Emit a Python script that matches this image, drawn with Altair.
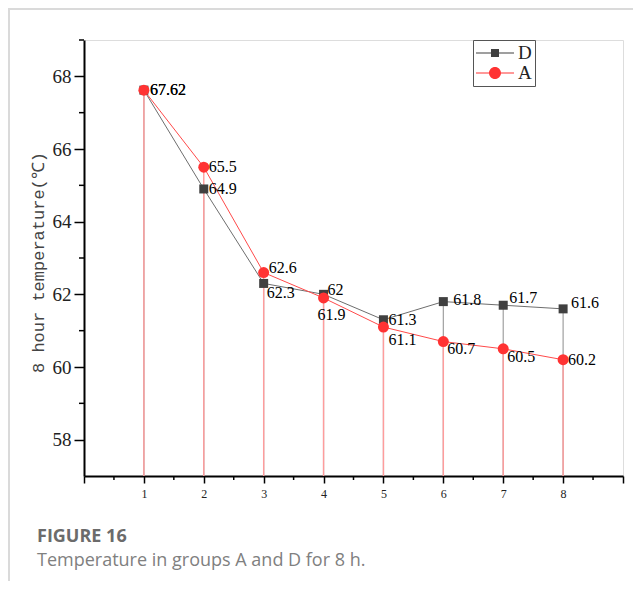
import altair as alt
import pandas as pd

# ---------------- data ----------------
HOURS = [1, 2, 3, 4, 5, 6, 7, 8]
D_VALUES = [67.62, 64.9, 62.3, 62.0, 61.3, 61.8, 61.7, 61.6]
A_VALUES = [67.62, 65.5, 62.6, 61.9, 61.1, 60.7, 60.5, 60.2]
SERIES = ["D", "A"]
X_TICKS = [0, 1, 2, 3, 4, 5, 6, 7, 8, 9]
X_MINOR = [0.5, 1.5, 2.5, 3.5, 4.5, 5.5, 6.5, 7.5, 8.5]
Y_TICKS = [58, 60, 62, 64, 66, 68]
Y_MINOR = [59, 61, 63, 65, 67, 69]
Y_TITLE = "8 hour temperature(℃)"
CAPTION_TITLE = "FIGURE 16"
CAPTION_TEXT = "Temperature in groups A and D for 8 h."

rows = []
for h, v in zip(HOURS, D_VALUES):
    rows.append({"hour": h, "value": v, "series": "D", "label": f"{v:g}"})
for h, v in zip(HOURS, A_VALUES):
    rows.append({"hour": h, "value": v, "series": "A", "label": f"{v:g}"})
df = pd.DataFrame(rows)
dfD = df[df.series == "D"]
dfA = df[df.series == "A"]

# label offsets (style only)
OFFSETS = {
    ("D", 1): (6, 0), ("D", 2): (5, 0), ("D", 3): (3, 10), ("D", 4): (4, -4),
    ("D", 5): (5, 0), ("D", 6): (10, -2), ("D", 7): (6, -7), ("D", 8): (8, -6),
    ("A", 1): (6, 0), ("A", 2): (5, 0), ("A", 3): (5, -5), ("A", 4): (-6, 17),
    ("A", 5): (5, 13), ("A", 6): (4, 7), ("A", 7): (4, 8), ("A", 8): (5, 0),
}

W, H = 539, 436
PAD = {"left": 76, "top": 32, "right": 10, "bottom": 105}

xscale = alt.Scale(domain=[0, 9], nice=False, zero=False)
yscale = alt.Scale(domain=[57, 69], nice=False, zero=False)

x_axis = alt.Axis(
    values=X_TICKS, format="d",
    labelExpr="datum.value >= 1 && datum.value <= 8 ? datum.label : ''",
    title=None, grid=False, tickSize=7, tickWidth=1.5, tickColor="black",
    domainColor="black", domainWidth=2, labelFont="Liberation Serif",
    labelFontSize=12, labelColor="#222", labelPadding=5,
)
y_axis = alt.Axis(
    values=Y_TICKS, title=Y_TITLE, grid=False, tickSize=10, tickWidth=1.5,
    tickColor="black", domainColor="black", domainWidth=2,
    labelFont="Liberation Serif", labelFontSize=19, labelColor="#222",
    labelPadding=3, titleFont="Liberation Mono", titleFontSize=17,
    titleFontWeight="normal", titleColor="#444", titleX=-46, titleY=222,
    titleBaseline="middle", titleAngle=270,
)

X = alt.X("hour:Q", scale=xscale, axis=x_axis)
Y = alt.Y("value:Q", scale=yscale, axis=y_axis)

base = alt.Chart(df)

drop_d = alt.Chart(dfD).mark_rule(color="#a0a0a0", strokeWidth=1.2).encode(
    x=X, y=Y, y2=alt.datum(57))
drop_a = alt.Chart(dfA).mark_rule(color="#ff9c9c", strokeWidth=1.4).encode(
    x=X, y=Y, y2=alt.datum(57))

line_d = alt.Chart(dfD).mark_line(color="#6e6e6e", strokeWidth=1).encode(x=X, y=Y)
line_a = alt.Chart(dfA).mark_line(color="#ff4a4a", strokeWidth=1).encode(x=X, y=Y)

pts_d = alt.Chart(dfD).mark_point(shape="square", filled=True, size=81,
                                  color="#404040", opacity=1).encode(x=X, y=Y)
pts_a = alt.Chart(dfA).mark_point(shape="circle", filled=True, size=121,
                                  color="#ff3333", opacity=1).encode(x=X, y=Y)

labels = []
for (s, h), (dx, dy) in OFFSETS.items():
    labels.append(
        base.transform_filter((alt.datum.series == s) & (alt.datum.hour == h))
        .mark_text(align="left", baseline="middle", dx=dx, dy=dy,
                   font="Liberation Serif", fontSize=16, color="black")
        .encode(x=X, y=Y, text="label:N")
    )

# legend symbols: line + marker (custom paths)
SQ_SYM = ("M-1,-0.05H0.5V0.05H-1Z M0.5,-0.4H1.3V0.4H0.5Z "
          "M1.3,-0.05H2.8V0.05H1.3Z")
CI_SYM = ("M-1,-0.05H0.3V0.05H-1Z "
          "M0.3,0A0.6,0.6 0 1,1 1.5,0A0.6,0.6 0 1,1 0.3,0Z "
          "M1.5,-0.05H2.8V0.05H1.5Z")
leg = alt.Legend(
    title=None, orient="none", legendX=389, legendY=0, padding=3,
    strokeColor="#555", fillColor="white", symbolSize=400,
    symbolStrokeWidth=0, symbolOpacity=1, labelFont="Liberation Serif",
    labelFontSize=19, labelOffset=22, rowPadding=0, labelColor="#222",
)
legend_layer = base.mark_point(filled=True, opacity=0).encode(
    x=X, y=Y,
    color=alt.Color("series:N", scale=alt.Scale(domain=SERIES,
                    range=["#404040", "#ff3333"]), legend=leg),
    shape=alt.Shape("series:N", scale=alt.Scale(domain=SERIES,
                    range=[SQ_SYM, CI_SYM]), legend=leg),
)

xminor = alt.Chart(pd.DataFrame({"m": X_MINOR})).mark_rule(
    color="black", strokeWidth=1.5).encode(
    x=alt.X("m:Q", scale=xscale), y=alt.value(H), y2=alt.value(H + 4))
yminor = alt.Chart(pd.DataFrame({"m": Y_MINOR})).mark_rule(
    color="black", strokeWidth=1.5).encode(
    y=alt.Y("m:Q", scale=yscale), x=alt.value(-5), x2=alt.value(0))

one = pd.DataFrame({"t": [CAPTION_TITLE], "s": [CAPTION_TEXT]})
frame_top = alt.Chart(one).mark_rule(color="#dadada", strokeWidth=2).encode(
    x=alt.value(-76), x2=alt.value(W + PAD["right"]), y=alt.value(-31))
frame_left = alt.Chart(one).mark_rule(color="#dadada", strokeWidth=2).encode(
    x=alt.value(-75), y=alt.value(-31), y2=alt.value(H + PAD["bottom"]))
cap1 = alt.Chart(one).mark_text(
    align="left", baseline="alphabetic", font="Open Sans", fontSize=18,
    fontWeight="bold", color="#6b6b6b").encode(
    x=alt.value(-47), y=alt.value(502), text="t:N")
cap2 = alt.Chart(one).mark_text(
    align="left", baseline="alphabetic", font="Open Sans", fontSize=18,
    color="#808080").encode(
    x=alt.value(-47), y=alt.value(526), text="s:N")

chart = alt.layer(
    frame_top, frame_left, drop_d, drop_a, line_d, line_a, pts_d, pts_a,
    *labels, legend_layer, xminor, yminor, cap1, cap2,
).properties(
    width=W, height=H, padding=PAD,
    autosize=alt.AutoSizeParams(type="none"),
).configure_view(stroke=None).configure(background="white")

chart.save("out.html", embed_options={"renderer": "svg", "actions": False})
